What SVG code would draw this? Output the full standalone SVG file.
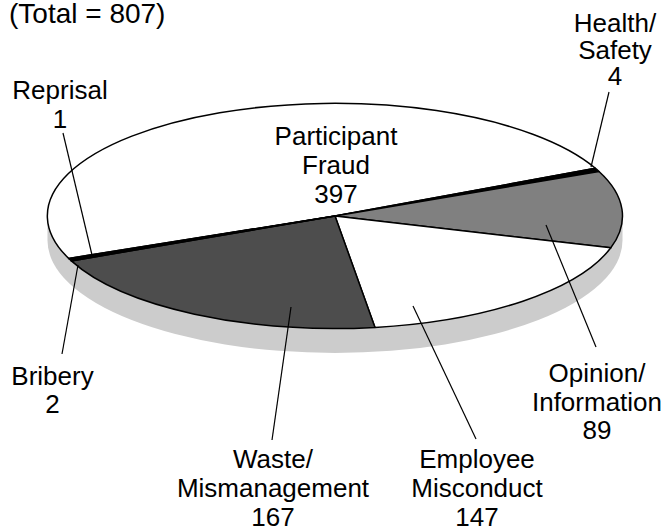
<svg xmlns="http://www.w3.org/2000/svg" width="666" height="531" viewBox="0 0 666 531">
<style>
text{font-family:"Liberation Sans",Arial,sans-serif;font-size:26px;fill:#000;text-anchor:middle}
.title{font-size:28px;text-anchor:start}
.slice{stroke:#000;stroke-width:1.5;stroke-linejoin:round}
.lead{stroke:#000;stroke-width:1.2;fill:none}
</style>
<rect width="666" height="531" fill="#fff"/>
<text class="title" x="9" y="22.7">(Total = 807)</text>
<g id="pie">
<path id="side" d="M47.5,216 L47.5,240.5 A287.5 112.5 0 0 0 622.5,240.5 L622.5,216 Z" fill="#cccccc"/>
<g id="participant-fraud"><path class="slice" fill="#fff" d="M335,216 L68.7,258.4 A287.5 112.5 0 0 1 595.4,168.3 Z"/></g>
<g id="health-safety"><path class="slice" fill="#000" d="M335,216 L595.4,168.3 A287.5 112.5 0 0 1 599.0,171.5 Z"/></g>
<g id="opinion-information"><path class="slice" fill="#808080" d="M335,216 L599.0,171.5 A287.5 112.5 0 0 1 610.8,247.8 Z"/></g>
<g id="employee-misconduct"><path class="slice" fill="#fff" d="M335,216 L610.8,247.8 A287.5 112.5 0 0 1 375.0,327.4 Z"/></g>
<g id="waste-mismanagement"><path class="slice" fill="#4d4d4d" d="M335,216 L375.0,327.4 A287.5 112.5 0 0 1 71.3,260.9 Z"/></g>
<g id="bribery"><path class="slice" fill="#000" d="M335,216 L71.3,260.9 A287.5 112.5 0 0 1 69.6,259.2 Z"/></g>
<g id="reprisal"><path class="slice" fill="#fff" d="M335,216 L69.6,259.2 A287.5 112.5 0 0 1 68.7,258.4 Z"/></g>
</g>
<g id="connectors">
<line class="lead" x1="63" y1="133" x2="92" y2="255"/>
<line class="lead" x1="609" y1="92" x2="591" y2="167"/>
<line class="lead" x1="546" y1="225" x2="596" y2="347"/>
<line class="lead" x1="413" y1="306" x2="476" y2="439"/>
<line class="lead" x1="291" y1="307" x2="272" y2="440"/>
<line class="lead" x1="78" y1="265" x2="62" y2="354"/>
</g>
<g id="label-reprisal"><text x="60" y="99">Reprisal</text><text x="60" y="127.7">1</text></g>
<g id="label-health"><text x="615" y="31.5">Health/</text><text x="615" y="58.5">Safety</text><text x="615" y="85">4</text></g>
<g id="label-fraud"><text x="336" y="145">Participant</text><text x="336" y="174">Fraud</text><text x="336" y="202.5">397</text></g>
<g id="label-bribery"><text x="52.5" y="385">Bribery</text><text x="52.5" y="413.3">2</text></g>
<g id="label-waste"><text x="273" y="468.3">Waste/</text><text x="273" y="497">Mismanagement</text><text x="273" y="525.5">167</text></g>
<g id="label-employee"><text x="477" y="468.3">Employee</text><text x="477" y="497">Misconduct</text><text x="477" y="525.5">147</text></g>
<g id="label-opinion"><text x="597" y="381.7">Opinion/</text><text x="597" y="410.5">Information</text><text x="597" y="439.3">89</text></g>
</svg>
